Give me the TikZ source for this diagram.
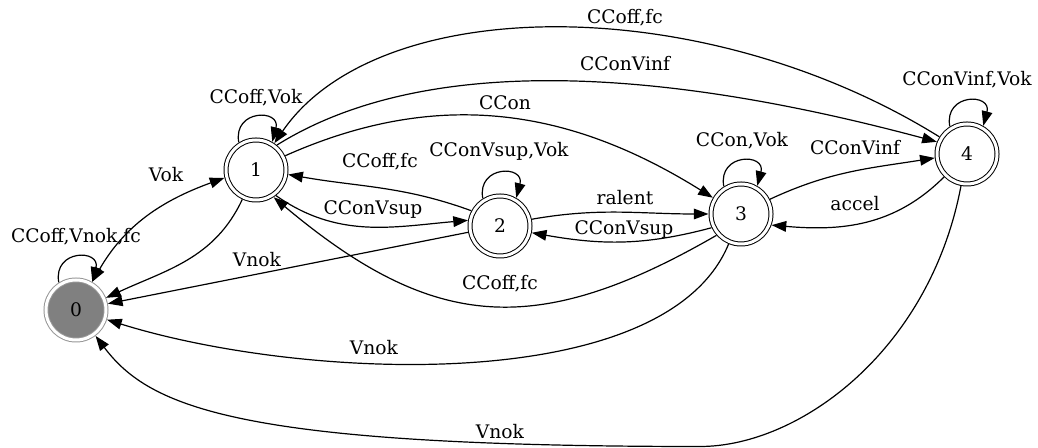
\documentclass[tikz,border=0pt]{standalone}
\usepackage{fontspec}
\setmainfont{DejaVu Serif}
\usetikzlibrary{arrows.meta}
\definecolor{etatgris}{RGB}{128,128,128}
\definecolor{bordgris}{RGB}{150,150,150}

\begin{document}
\begin{tikzpicture}[
    x=0.75pt, y=0.75pt,
    font=\fontsize{14pt}{16pt}\selectfont,
    etat/.style={circle, draw, line width=0.75pt, double, double distance=2.25pt,
                 minimum size=45pt, inner sep=0pt, outer sep=1.9pt},
    trans/.style={-{Triangle[length=11pt,width=8pt]}, line width=0.9pt},
    bidir/.style={{Triangle[length=11pt,width=8pt]}-{Triangle[length=11pt,width=8pt]}, line width=0.9pt},
    lbl/.style={anchor=base, inner sep=0pt}
]
\useasboundingbox (0,0) rectangle (1038,448);

% Etats
\node[etat, draw=bordgris, fill=etatgris] (n0) at (76,138) {0};
\node[etat] (n1) at (256,278) {1};
\node[etat] (n2) at (500,222) {2};
\node[etat] (n3) at (741,234) {3};
\node[etat] (n4) at (967,294) {4};

% Boucles
\draw[trans] (n0.122) .. controls +(100:34) and +(75:34) .. (n0.60);
\draw[trans] (n1.122) .. controls +(100:34) and +(75:34) .. (n1.60);
\draw[trans] (n2.122) .. controls +(100:34) and +(75:34) .. (n2.60);
\draw[trans] (n3.122) .. controls +(100:34) and +(75:34) .. (n3.60);
\draw[trans] (n4.122) .. controls +(100:34) and +(75:34) .. (n4.60);
\node[lbl] (l00) at (76,205) {CCoff,Vnok,fc};
\node[lbl] (l11) at (256,344) {CCoff,Vok};
\node[lbl] (l22) at (499,291) {CConVsup,Vok};
\node[lbl] (l33) at (742,301) {CCon,Vok};
\node[lbl] (l44) at (967,362) {CConVinf,Vok};

% Transitions
\draw[bidir] (n0.60) to[out=60,in=200] (n1.194);
\draw[trans] (n1.-115) to[out=-115,in=25] (n0.22);
\draw[trans] (n2) -- (n0);
\draw[trans] (n1.-52) to[out=-35,in=185] (n2.170);
\draw[trans] (n2.152) to[out=160,in=-10] (n1.-8);
\draw[trans] (n1.26) to[out=24,in=148] (n3.150);
\draw[trans] (n2.12) to[out=10,in=180] (n3.180);
\draw[trans] (n3.205) to[out=195,in=-10] (n2.-12);
\draw[trans] (n3.221) to[out=210,in=-40,looseness=1.2] (n1.-57);
\draw[trans] (n3.27) to[out=25,in=189] (n4.187);
\draw[trans] (n4.225) to[out=225,in=-5] (n3.-20);
\draw[trans] (n1.50) to[out=32,in=165,looseness=0.8] (n4.158);
\draw[trans] (n4) .. controls (703,458) and (378,456) .. (n1);
\draw[trans] (n3) .. controls (665,50) and (300,68) .. (n0);
\draw[trans] (n4) .. controls (930,98) and (800,1.5) .. (700,1.5)
             .. controls (240,1.5) and (150,40) .. (n0);

% Etiquettes
\node[lbl] (lvok) at (166,266) {Vok};
\node[lbl] (l12) at (373,233) {CConVsup};
\node[lbl] (l20) at (257,181) {Vnok};
\node[lbl] (l31) at (500,158) {CCoff,fc};
\node[lbl] (l30) at (374,93) {Vnok};
\node[lbl] (l40) at (500,9) {Vnok};
\node[lbl] (l41) at (625,424) {CCoff,fc};
\node[lbl] (l14) at (625,377) {CConVinf};
\node[lbl] (l21) at (380,280) {CCoff,fc};
\node[lbl] (l13) at (505,338) {CCon};
\node[lbl] (l23) at (625,243) {ralent};
\node[lbl] (l32) at (624,213) {CConVsup};
\node[lbl] (l34) at (855,293) {CConVinf};
\node[lbl] (l43) at (855,237) {accel};

\end{tikzpicture}
\end{document}
